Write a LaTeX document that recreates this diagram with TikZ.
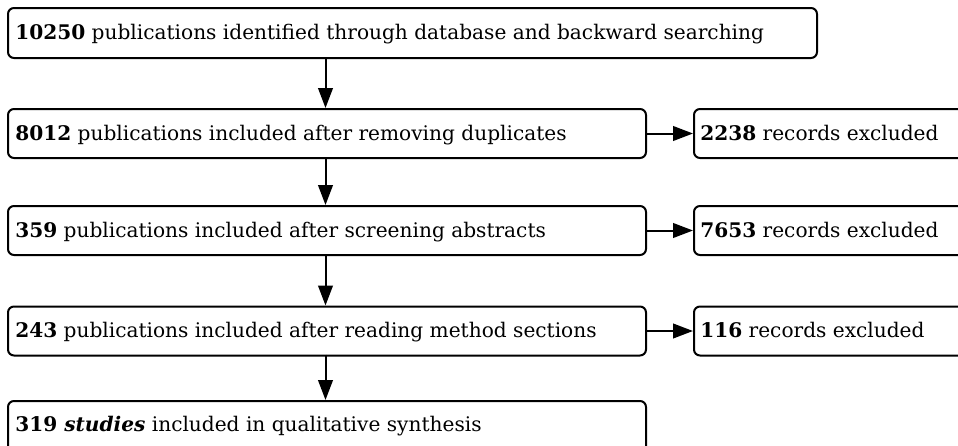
\documentclass[tikz,border=0pt]{standalone}
\usepackage{fontspec}
\setmainfont{DejaVu Serif}
\usetikzlibrary{arrows.meta}
\begin{document}
\begin{tikzpicture}[x=0.75pt,y=-0.75pt,
  boxr/.style={draw=black,line width=1.5pt,rounded corners=4.5pt},
  lbl/.style={anchor=base west,inner sep=0pt,font=\fontsize{15.1}{17}\selectfont},
  arr/.style={line width=1.5pt,-{Triangle[length=15pt,width=11pt]}}]
\clip (0,0) rectangle (958,446);
\fill[white] (0,0) rectangle (958,446);
% main boxes
\node[boxr,minimum width=809*0.75pt,minimum height=50*0.75pt,anchor=north west] (b1) at (7,7) {};
\node[boxr,minimum width=638*0.75pt,minimum height=49*0.75pt,anchor=north west] (b2) at (7,108) {};
\node[boxr,minimum width=638*0.75pt,minimum height=49*0.75pt,anchor=north west] (b3) at (7,205) {};
\node[boxr,minimum width=638*0.75pt,minimum height=49*0.75pt,anchor=north west] (b4) at (7,305.5) {};
\node[boxr,minimum width=638*0.75pt,minimum height=60*0.75pt,anchor=north west] (b5) at (7,400) {};
% side boxes
\node[boxr,minimum width=280*0.75pt,minimum height=49*0.75pt,anchor=north west] (r1) at (693,108) {};
\node[boxr,minimum width=280*0.75pt,minimum height=49*0.75pt,anchor=north west] (r2) at (693,205) {};
\node[boxr,minimum width=280*0.75pt,minimum height=49*0.75pt,anchor=north west] (r3) at (693,305.5) {};
% labels
\node[lbl] (t1) at (15,40) {\textbf{10250} publications identified through database and backward searching};
\node[lbl] (t2) at (15,140) {\textbf{8012} publications included after removing duplicates};
\node[lbl] (t3) at (15,237) {\textbf{359} publications included after screening abstracts};
\node[lbl] (t4) at (15,337.5) {\textbf{243} publications included after reading method sections};
\node[lbl] (t5) at (15,431.5) {\textbf{319 \textit{studies}} included in qualitative synthesis};
\node[lbl] (s1) at (700,140) {\textbf{2238} records excluded};
\node[lbl] (s2) at (700,237) {\textbf{7653} records excluded};
\node[lbl] (s3) at (700,337.5) {\textbf{116} records excluded};
% connectors
\coordinate (c1) at (325.5,57);
\coordinate (c2) at (325.5,157);
\coordinate (c3) at (325.5,254);
\coordinate (c4) at (325.5,354.5);
\draw[arr] (c1) -- (c1 |- b2.north);
\draw[arr] (c2) -- (c2 |- b3.north);
\draw[arr] (c3) -- (c3 |- b4.north);
\draw[arr] (c4) -- (c4 |- b5.north);
\draw[arr] (b2.east) -- (r1.west);
\draw[arr] (b3.east) -- (r2.west);
\draw[arr] (b4.east) -- (r3.west);
\end{tikzpicture}
\end{document}
